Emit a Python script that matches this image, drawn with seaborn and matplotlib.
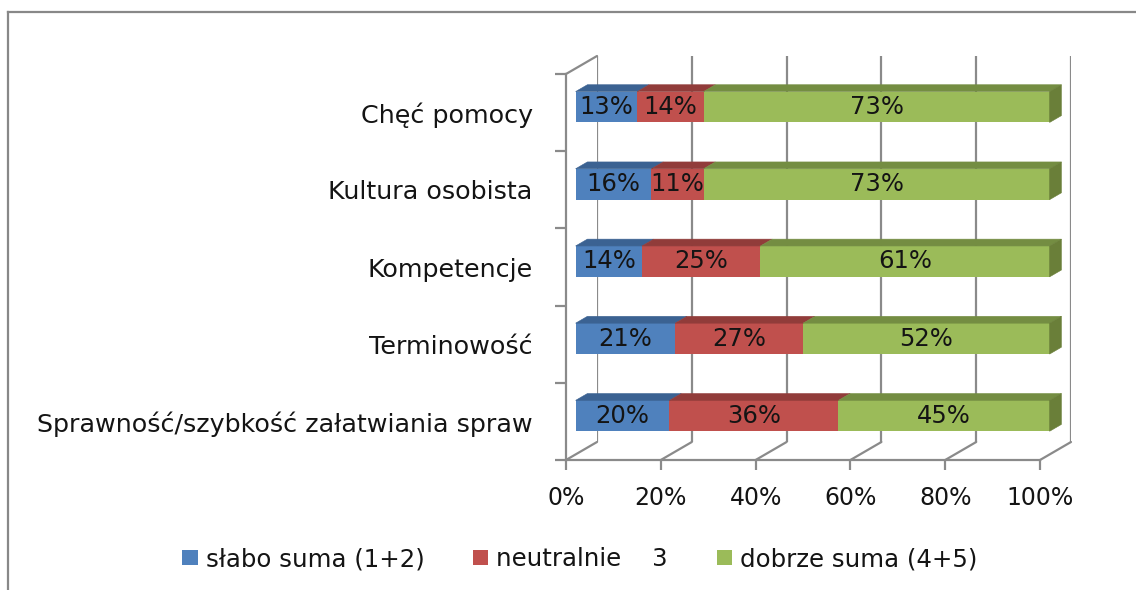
import matplotlib
matplotlib.use("Agg")
import matplotlib.pyplot as plt
import seaborn as sns
import pandas as pd
from matplotlib.patches import Polygon, Patch, ConnectionPatch
from matplotlib.lines import Line2D
from matplotlib.transforms import IdentityTransform

# data (top to bottom)
categories = [
    "Chęć pomocy",
    "Kultura osobista",
    "Kompetencje",
    "Terminowość",
    "Sprawność/szybkość załatwiania spraw",
]
slabo = [13, 16, 14, 21, 20]
neutralnie = [14, 11, 25, 27, 36]
dobrze = [73, 73, 61, 52, 45]
series_names = ["słabo suma (1+2)", "neutralnie    3", "dobrze suma (4+5)"]
x_ticks = [0, 20, 40, 60, 80, 100]
x_tick_labels = ["0%", "20%", "40%", "60%", "80%", "100%"]

colors = ["#4F81BD", "#C0504D", "#9BBB59"]
top_colors = ["#3B6292", "#913C3A", "#748D42"]
side_color = "#6A7F39"
grid_color = "#8A8A8A"
text_color = "#141414"

W, H = 1136, 590
DEPTH = (31, 18)            # pixel offset front wall -> back wall
FRONT_LEFT, FRONT_BOTTOM = 566, 460
PLOT_W, PLOT_H = 474, 386
BAR_FRONT, BAR_BACK = 0.31, 0.69
BAR_WIDTH = 0.4


def plane_axes(fig, d, zorder):
    left = FRONT_LEFT + DEPTH[0] * d
    bottom = FRONT_BOTTOM - DEPTH[1] * d
    ax = fig.add_axes([left / W, (H - bottom) / H, PLOT_W / W, PLOT_H / H], zorder=zorder)
    ax.patch.set_alpha(0)
    return ax


def set_limits(ax):
    ax.set_xlim(0, 100)
    ax.set_ylim(len(categories) - 0.5, -0.5)


fig = plt.figure(figsize=(W / 100, H / 100), dpi=100)

# 100% stacked shares
df = pd.DataFrame({"category": categories, "slabo": slabo,
                   "neutralnie": neutralnie, "dobrze": dobrze})
values = df[["slabo", "neutralnie", "dobrze"]]
shares = values.div(values.sum(axis=1), axis=0) * 100
cum = shares.cumsum(axis=1)
df["cum_slabo"] = cum["slabo"]
df["cum_neutralnie"] = cum["neutralnie"]
df["cum_dobrze"] = cum["dobrze"]

# back wall with gridlines
back_ax = plane_axes(fig, 1.0, 0)
set_limits(back_ax)
for x in x_ticks:
    back_ax.axvline(x, color=grid_color, lw=1.6)
back_ax.set_axis_off()

# front axis
front_ax = plane_axes(fig, 0.0, 1)
set_limits(front_ax)
for side in ["top", "right"]:
    front_ax.spines[side].set_visible(False)
for side in ["left", "bottom"]:
    front_ax.spines[side].set_color(grid_color)
    front_ax.spines[side].set_linewidth(1.6)
front_ax.set_xticks(x_ticks, labels=x_tick_labels)
front_ax.set_yticks([i - 0.5 for i in range(len(categories) + 1)], labels=[""] * (len(categories) + 1))
front_ax.set_yticks(range(len(categories)), labels=categories, minor=True)
front_ax.tick_params(axis="x", length=7, width=1.6, color=grid_color,
                     labelsize=17, labelcolor=text_color, pad=12)
front_ax.tick_params(axis="y", which="major", length=8, width=1.6, color=grid_color)
front_ax.tick_params(axis="y", which="minor", length=0, labelsize=18.3,
                     labelcolor=text_color, pad=24)

# floor and side wall edges
for x in x_ticks:
    fig.add_artist(ConnectionPatch(xyA=(x, len(categories) - 0.5), coordsA=front_ax.transData,
                                   xyB=(x, len(categories) - 0.5), coordsB=back_ax.transData,
                                   color=grid_color, lw=1.6))
fig.add_artist(ConnectionPatch(xyA=(0, -0.5), coordsA=front_ax.transData,
                               xyB=(0, -0.5), coordsB=back_ax.transData,
                               color=grid_color, lw=1.6))

# bars: draw cumulative totals, longest first
bar_ax = plane_axes(fig, BAR_FRONT, 2)
for col, color in zip(["cum_dobrze", "cum_neutralnie", "cum_slabo"], colors[::-1]):
    sns.barplot(data=df, x=col, y="category", orient="h", color=color,
                width=BAR_WIDTH, saturation=1, linewidth=0, ax=bar_ax)
set_limits(bar_ax)
bar_ax.set_axis_off()

# 3d faces of the bars
dx = DEPTH[0] * (BAR_BACK - BAR_FRONT)
dy = DEPTH[1] * (BAR_BACK - BAR_FRONT)
trans = bar_ax.transData
for i in range(len(categories)):
    lefts = [0] + list(cum.iloc[i, :-1])
    rights = list(cum.iloc[i])
    for k in range(3):
        p1 = trans.transform((lefts[k], i - BAR_WIDTH / 2))
        p2 = trans.transform((rights[k], i - BAR_WIDTH / 2))
        top = [p1, p2, (p2[0] + dx, p2[1] + dy), (p1[0] + dx, p1[1] + dy)]
        bar_ax.add_artist(Polygon(top, closed=True, transform=IdentityTransform(),
                                  facecolor=top_colors[k], edgecolor=top_colors[k],
                                  lw=0.4, clip_on=False))
    q1 = trans.transform((rights[2], i - BAR_WIDTH / 2))
    q2 = trans.transform((rights[2], i + BAR_WIDTH / 2))
    side = [q1, q2, (q2[0] + dx, q2[1] + dy), (q1[0] + dx, q1[1] + dy)]
    bar_ax.add_artist(Polygon(side, closed=True, transform=IdentityTransform(),
                              facecolor=side_color, edgecolor=side_color,
                              lw=0.4, clip_on=False))
    # data labels
    labels = [slabo[i], neutralnie[i], dobrze[i]]
    for k in range(3):
        bar_ax.text((lefts[k] + rights[k]) / 2, i, f"{labels[k]}%",
                    ha="center", va="center", fontsize=17.5, color=text_color)

# legend
handles = [Patch(facecolor=c, edgecolor="none") for c in colors]
fig.legend(handles, series_names, loc="center", bbox_to_anchor=(580 / W, 1 - 559 / H),
           ncol=3, frameon=False, fontsize=17.6, handlelength=0.62, handleheight=0.58,
           handletextpad=0.33, columnspacing=2.0, labelcolor=text_color)

# chart area border (top and left)
fig.add_artist(Line2D([8 / W, 8 / W], [0, 1 - 12 / H], transform=fig.transFigure,
                      color="#888888", lw=1.6))
fig.add_artist(Line2D([8 / W, 1], [1 - 12 / H, 1 - 12 / H], transform=fig.transFigure,
                      color="#888888", lw=1.6))

fig.savefig("out.png", dpi=100)
